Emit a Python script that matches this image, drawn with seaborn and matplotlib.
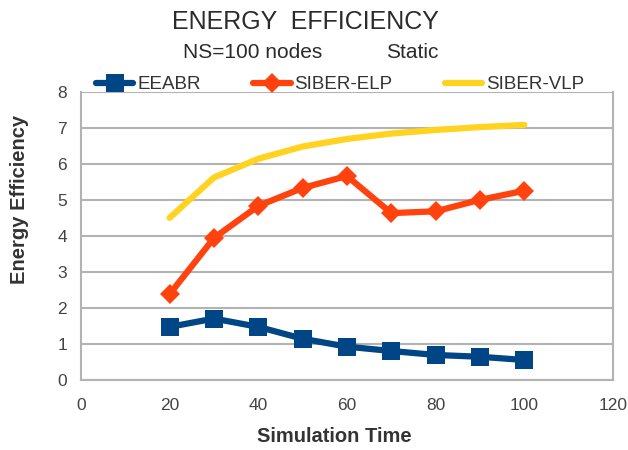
import matplotlib
matplotlib.use("Agg")
import matplotlib.pyplot as plt
import seaborn as sns
import pandas as pd

sim_time = [20, 30, 40, 50, 60, 70, 80, 90, 100]
eeabr = [1.47, 1.70, 1.47, 1.14, 0.92, 0.80, 0.69, 0.64, 0.55]
siber_elp = [2.38, 3.94, 4.83, 5.33, 5.66, 4.63, 4.68, 5.00, 5.25]
siber_vlp = [4.50, 5.62, 6.14, 6.48, 6.69, 6.84, 6.94, 7.02, 7.08]
series_names = ["EEABR", "SIBER-ELP", "SIBER-VLP"]
colors = {"EEABR": "#004586", "SIBER-ELP": "#ff420e", "SIBER-VLP": "#ffd320"}
markers = {"EEABR": "s", "SIBER-ELP": "D", "SIBER-VLP": "None"}
msizes = {"EEABR": 12.5, "SIBER-ELP": 10, "SIBER-VLP": 0}

df = pd.DataFrame({
    "Simulation Time": sim_time * 3,
    "Energy Efficiency": eeabr + siber_elp + siber_vlp,
    "Series": sum([[n] * len(sim_time) for n in series_names], []),
})

sns.set_style("white")
plt.rcParams["font.family"] = ["Liberation Sans", "DejaVu Sans"]

fig = plt.figure(figsize=(6.28, 4.5), dpi=100)
ax = fig.add_axes([0.129, 0.156, 0.847, 0.640])

for name in series_names:
    sub = df[df["Series"] == name]
    sns.lineplot(data=sub, x="Simulation Time", y="Energy Efficiency", ax=ax,
                 color=colors[name], linewidth=4.5, marker=markers[name],
                 markersize=msizes[name], markeredgewidth=0, label=name,
                 errorbar=None)

ax.set_xlim(0, 120)
ax.set_ylim(0, 8)
ax.set_xticks(range(0, 121, 20))
ax.set_yticks(range(0, 9))
ax.yaxis.grid(True, color="#b3b3b3", linewidth=1.5)
ax.xaxis.grid(False)
for side in ["left", "bottom", "right"]:
    ax.spines[side].set_color("#b3b3b3")
    ax.spines[side].set_linewidth(1.5)
ax.spines["top"].set_visible(False)
ax.tick_params(axis="x", colors="#b3b3b3", length=5, width=1.2, labelcolor="#444444", labelsize=12.5, pad=8)
ax.tick_params(axis="y", colors="#b3b3b3", length=5, width=1.2, labelcolor="#444444", labelsize=12.5, pad=5)
ax.set_xlabel("Simulation Time", fontsize=14.5, fontweight="bold", color="#333333")
ax.xaxis.set_label_coords(0.476, -0.163)
ax.set_ylabel("Energy Efficiency", fontsize=14.5, fontweight="bold", color="#333333")
ax.yaxis.set_label_coords(-0.098, 0.625)

leg = ax.legend(loc="center", bbox_to_anchor=(0.487, 1.024), ncol=3, frameon=False,
                fontsize=13.5, handlelength=2.0, columnspacing=2.8, handletextpad=0.2)
for t in leg.get_texts():
    t.set_color("#333333")

fig.text(0.487, 0.951, "ENERGY  EFFICIENCY", ha="center", va="center",
         fontsize=18, color="#2b2b2b")
fig.text(183 / 628, 0.884, "NS=100 nodes", ha="left", va="center",
         fontsize=15, color="#2b2b2b")
fig.text(438 / 628, 0.884, "Static", ha="right", va="center",
         fontsize=15, color="#2b2b2b")

fig.savefig("out.png", dpi=100)
